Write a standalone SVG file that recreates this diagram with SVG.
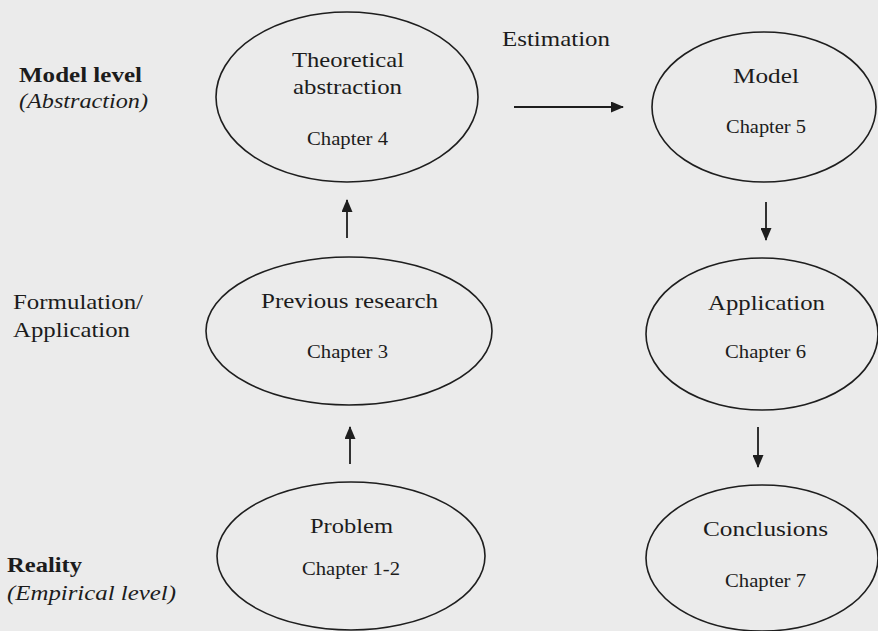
<svg xmlns="http://www.w3.org/2000/svg" width="878" height="631" viewBox="0 0 878 631">
<style>
.bg{fill:#ebebeb}
.node ellipse{fill:none;stroke:#1e1e1e;stroke-width:1.6}
text{font-family:'Liberation Serif','Times New Roman',Times,serif;fill:#1c1c1c}
.lbl{font-size:22px}
.ch{font-size:18px}
.b{font-weight:bold}
.i{font-style:italic}
.edge{stroke:#1e1e1e;stroke-width:1.8;fill:none;marker-end:url(#ah)}
</style>
<defs>
<marker id="ah" markerUnits="userSpaceOnUse" markerWidth="13" markerHeight="11" refX="12" refY="5.5" orient="auto">
<path d="M0,0 L13,5.5 L0,11 Z" fill="#1e1e1e"/>
</marker>
</defs>
<rect class="bg" x="0" y="0" width="878" height="631"/>
<g id="side-labels" font-family="Liberation Serif, serif">
<text class="lbl b" x="19" y="82" textLength="123" lengthAdjust="spacingAndGlyphs">Model level</text>
<text class="lbl i" x="19" y="108" textLength="129" lengthAdjust="spacingAndGlyphs">(Abstraction)</text>
<text class="lbl" x="13" y="309" textLength="130" lengthAdjust="spacingAndGlyphs">Formulation/</text>
<text class="lbl" x="13" y="337" textLength="117" lengthAdjust="spacingAndGlyphs">Application</text>
<text class="lbl b" x="7" y="572" textLength="75" lengthAdjust="spacingAndGlyphs">Reality</text>
<text class="lbl i" x="7" y="600" textLength="169" lengthAdjust="spacingAndGlyphs">(Empirical level)</text>
</g>
<g id="theoretical" class="node">
<ellipse cx="347" cy="97" rx="131" ry="85"/>
<text class="lbl" x="292" y="67" textLength="112" lengthAdjust="spacingAndGlyphs">Theoretical</text>
<text class="lbl" x="293" y="94" textLength="109" lengthAdjust="spacingAndGlyphs">abstraction</text>
<text class="ch" x="307" y="145" textLength="81" lengthAdjust="spacingAndGlyphs">Chapter 4</text>
</g>
<g id="model" class="node">
<ellipse cx="764" cy="107" rx="112" ry="75"/>
<text class="lbl" x="733" y="83" textLength="66" lengthAdjust="spacingAndGlyphs">Model</text>
<text class="ch" x="726" y="133" textLength="80" lengthAdjust="spacingAndGlyphs">Chapter 5</text>
</g>
<g id="previous" class="node">
<ellipse cx="349" cy="331" rx="143" ry="74"/>
<text class="lbl" x="261" y="308" textLength="177" lengthAdjust="spacingAndGlyphs">Previous research</text>
<text class="ch" x="307" y="358" textLength="81" lengthAdjust="spacingAndGlyphs">Chapter 3</text>
</g>
<g id="application" class="node">
<ellipse cx="762" cy="334" rx="116" ry="76"/>
<text class="lbl" x="708" y="310" textLength="117" lengthAdjust="spacingAndGlyphs">Application</text>
<text class="ch" x="725" y="358" textLength="81" lengthAdjust="spacingAndGlyphs">Chapter 6</text>
</g>
<g id="problem" class="node">
<ellipse cx="351" cy="556" rx="134" ry="74"/>
<text class="lbl" x="310" y="533" textLength="83" lengthAdjust="spacingAndGlyphs">Problem</text>
<text class="ch" x="302" y="575" textLength="98" lengthAdjust="spacingAndGlyphs">Chapter 1-2</text>
</g>
<g id="conclusions" class="node">
<ellipse cx="762" cy="558" rx="116" ry="73"/>
<text class="lbl" x="703" y="536" textLength="125" lengthAdjust="spacingAndGlyphs">Conclusions</text>
<text class="ch" x="725" y="587" textLength="81" lengthAdjust="spacingAndGlyphs">Chapter 7</text>
</g>
<g id="connectors">
<line class="edge" x1="514" y1="107" x2="623" y2="107"/>
<text class="lbl" x="502" y="46" textLength="108" lengthAdjust="spacingAndGlyphs">Estimation</text>
<line class="edge" x1="347" y1="238" x2="347" y2="200"/>
<line class="edge" x1="350" y1="464" x2="350" y2="427"/>
<line class="edge" x1="766" y1="202" x2="766" y2="240"/>
<line class="edge" x1="758" y1="427" x2="758" y2="467"/>
</g>
</svg>
